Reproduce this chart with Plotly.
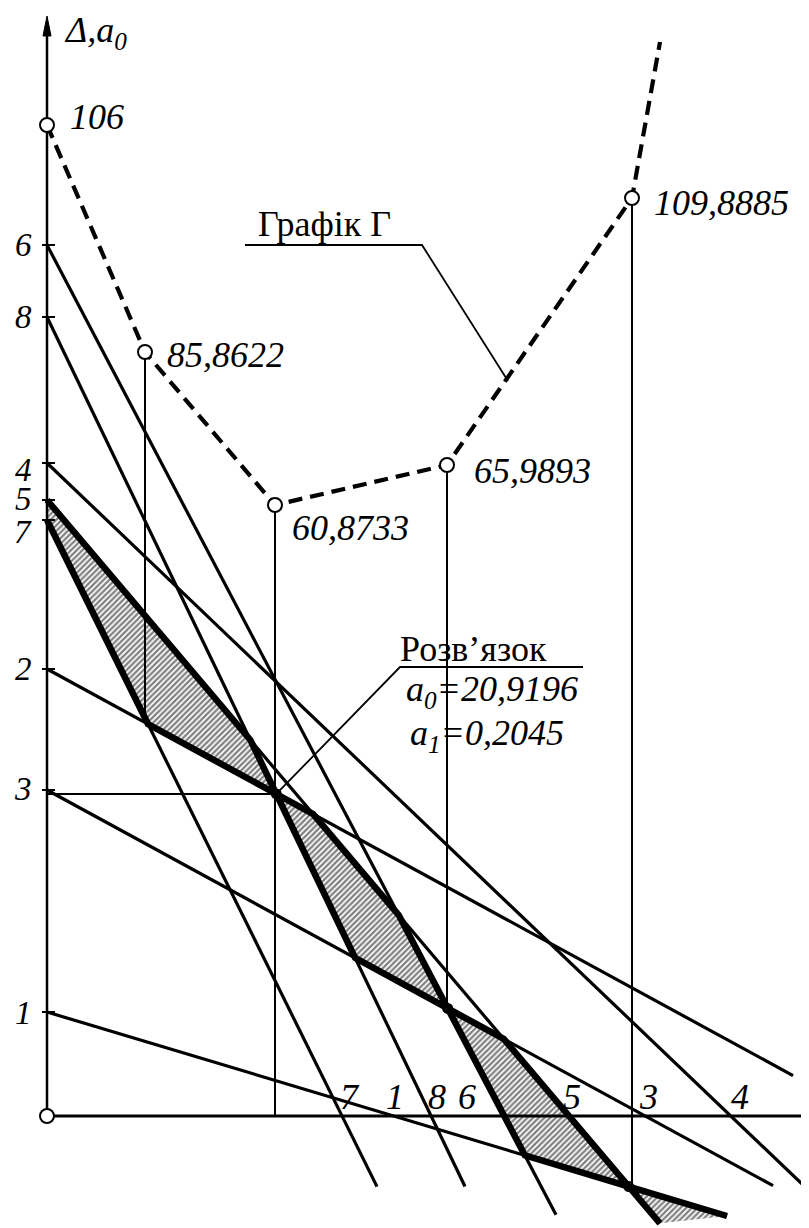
import plotly.graph_objects as go

# ---------------- data (abstract drawing units) ----------------
# constraint lines 1..8 : value on the Δ,a0 axis, slope, horizontal extent
line_ids   = ['1', '2', '3', '4', '5', '6', '7', '8']
line_start = [104, 447, 326, 653, 616, 871, 596, 799]
line_slope = [-0.300, -0.545, -0.545, -0.955, -1.180, -1.905, -2.020, -2.080]
line_end   = [680, 746, 726, 760, 613, 509, 330, 418]

# left-axis label positions (label shown next to tick at each line start)
left_label_v = [103, 447, 327, 646, 617, 871, 584, 799]

# labels along the horizontal axis
bottom_labels   = ['7', '1', '8', '6', '5', '3', '4']
bottom_labels_u = [303, 348, 390, 420, 525, 601, 693]

# graph Г (minimum Δ for each trial position)
gamma_u      = [0, 98, 228, 400, 585]
gamma_v      = [991, 764, 611, 651, 918]
gamma_text   = ['106', '85,8622', '60,8733', '65,9893', '109,8885']
gamma_drop   = [None, 392, 0, 109, -72]
gamma_tail   = (613, 1074)

# solution
solution_text = ['a<sub>0</sub>=20,9196', 'a<sub>1</sub>=0,2045']

FONT = 'Liberation Serif, Times New Roman, serif'
FS = 36


def val(i, u):
    return line_start[i] + line_slope[i] * u


def meet(a, b):
    i, j = line_ids.index(a), line_ids.index(b)
    u = (line_start[j] - line_start[i]) / (line_slope[i] - line_slope[j])
    return (u, val(i, u))


def end(a):
    i = line_ids.index(a)
    return (line_end[i], val(i, line_end[i]))


def start(a):
    i = line_ids.index(a)
    return (0, line_start[i])


fig = go.Figure()


def poly(pts):
    return [p[0] for p in pts], [p[1] for p in pts]


HATCH = dict(shape='/', size=4, solidity=0.55, fgcolor='black', bgcolor='white')

S = meet('2', '8')
polyA = [start('5'), meet('8', '5'), S, meet('7', '2'), start('7')]
polyB = [S, meet('2', '5'), meet('5', '6'), meet('6', '3'), meet('3', '8'), S]
polyC = [meet('6', '3'), meet('3', '5'), meet('5', '1'), meet('6', '1'), meet('6', '3')]
polyD = [end('5'), meet('5', '1'), end('1')]

for pts in (polyA, polyB, polyC, polyD):
    xs, ys = poly(pts)
    fig.add_trace(go.Scatter(x=xs + [xs[0]], y=ys + [ys[0]], mode='lines', fill='toself',
                             fillcolor='white', fillpattern=HATCH,
                             line=dict(width=0, color='rgba(0,0,0,0)'), hoverinfo='skip'))

# thin vertical drop lines from Г
for u, v, b in zip(gamma_u, gamma_v, gamma_drop):
    if b is None:
        continue
    fig.add_trace(go.Scatter(x=[u, u], y=[v, b], mode='lines',
                             line=dict(color='black', width=2), hoverinfo='skip'))

# horizontal projection of the solution to the axis
fig.add_trace(go.Scatter(x=[0, S[0]], y=[S[1], S[1]], mode='lines',
                         line=dict(color='black', width=2), hoverinfo='skip'))

# constraint lines
for i, lid in enumerate(line_ids):
    fig.add_trace(go.Scatter(x=[0, line_end[i]], y=[line_start[i], val(i, line_end[i])],
                             mode='lines', line=dict(color='black', width=3.2), hoverinfo='skip'))

# thick envelope
for pts in (polyA, polyB, polyC, polyD):
    xs, ys = poly(pts)
    fig.add_trace(go.Scatter(x=xs, y=ys, mode='lines',
                             line=dict(color='black', width=6.5), hoverinfo='skip'))

# axes
fig.add_trace(go.Scatter(x=[0, 0], y=[0, 1090], mode='lines',
                         line=dict(color='black', width=2.5), hoverinfo='skip'))
fig.add_trace(go.Scatter(x=[0, 762], y=[0, 0], mode='lines',
                         line=dict(color='black', width=3.2), hoverinfo='skip'))
fig.add_trace(go.Scatter(x=[-4, 0, 4, -4], y=[1080, 1100, 1080, 1080], mode='lines', fill='toself',
                         fillcolor='black', line=dict(color='black', width=1), hoverinfo='skip'))
# ticks
for v in line_start:
    fig.add_trace(go.Scatter(x=[-5, 8], y=[v, v], mode='lines',
                             line=dict(color='black', width=2), hoverinfo='skip'))

# leaders
fig.add_trace(go.Scatter(x=[198, 375, 461], y=[871, 871, 735], mode='lines',
                         line=dict(color='black', width=1.8), hoverinfo='skip'))
fig.add_trace(go.Scatter(x=[536, 353, S[0]], y=[449, 449, S[1]], mode='lines',
                         line=dict(color='black', width=1.8), hoverinfo='skip'))

# graph Г dashed
fig.add_trace(go.Scatter(x=gamma_u + [gamma_tail[0]], y=gamma_v + [gamma_tail[1]], mode='lines',
                         line=dict(color='black', width=4.2, dash='14px,8px'), hoverinfo='skip'))
fig.add_trace(go.Scatter(x=gamma_u + [0], y=gamma_v + [0], mode='markers',
                         marker=dict(symbol='circle', size=14, color='white',
                                     line=dict(color='black', width=2)), hoverinfo='skip'))

# solution / corner dots
dots = [S, meet('6', '3'), meet('5', '1')]
fig.add_trace(go.Scatter(x=[d[0] for d in dots], y=[d[1] for d in dots], mode='markers',
                         marker=dict(size=11, color='black'), hoverinfo='skip'))

ann = []


def txt(x, y, t, xa='left', ya='middle', size=FS):
    ann.append(dict(x=x, y=y, text=t, showarrow=False, xanchor=xa, yanchor=ya,
                    font=dict(family=FONT, size=size, color='black'), xref='x', yref='y'))


txt(15, 1084, '<i>Δ,a<sub>0</sub></i>')
gamma_text_pos = [(21, 999), (118, 761), (243, 588), (425, 645), (605, 913)]
for (x, y), t in zip(gamma_text_pos, gamma_text):
    txt(x, y, '<i>' + t + '</i>')
for lid, v in zip(line_ids, left_label_v):
    txt(-24, v, '<i>' + lid + '</i>', xa='center', size=33)
for t, u in zip(bottom_labels, bottom_labels_u):
    txt(u, 19, '<i>' + t + '</i>', xa='center')
txt(209, 892, 'Графік Г')
txt(351, 467, 'Розв’язок')
txt(357, 425, '<i>' + solution_text[0] + '</i>')
txt(361, 381, '<i>' + solution_text[1] + '</i>')

# page body has an 8px margin: figure is 801x1220, ranges chosen so the drawing
# origin sits at page pixel (47, 1116)
fig.update_layout(
    width=801, height=1220, margin=dict(l=0, r=0, t=0, b=0),
    paper_bgcolor='white', plot_bgcolor='white', showlegend=False,
    xaxis=dict(range=[-39, 762], visible=False, fixedrange=True),
    yaxis=dict(range=[-112, 1108], visible=False, fixedrange=True),
    annotations=ann,
)
fig.write_html('out.html')
